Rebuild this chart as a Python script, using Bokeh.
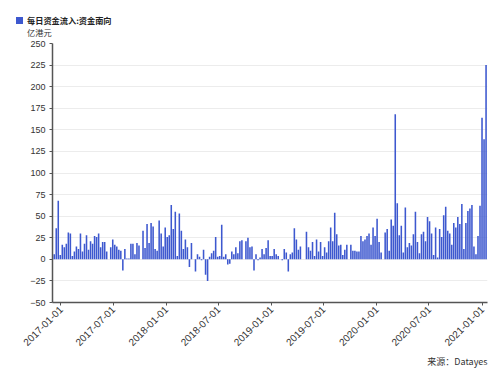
import pandas as pd
from bokeh.plotting import figure
from bokeh.layouts import column
from bokeh.models import (Range1d, FixedTicker, DatetimeTickFormatter, Title,
                          ColumnDataSource, Div)
from bokeh.embed import file_html
from bokeh.resources import INLINE
from math import pi

series_name = "每日资金流入:资金南向"
unit_label = "亿港元"
source_text = "来源：Datayes"
start_date = "2016-12-09"

values = [
    6, 36, 68, 5, 17, 14, 18, 31, 30, 4,
    9, 15, 12, 30, 9, 18, 28, 11, 21, 18,
    27, 26, 30, 14, 20, 20, 9, 0, 14, 23,
    17, 15, 11, 10, -13, 12, 1, 1, 18, 18,
    6, 19, 16, 0, 33, 13, 41, 19, 42, 38,
    12, 10, 45, 30, 15, 37, 26, 28, 63, 35,
    55, 4, 53, 33, 12, 23, 14, -9, 19, 0,
    -14, 6, 3, -1, 11, -18, -25, 3, 7, 10,
    26, 3, 4, 40, 3, 6, -6, -5, 9, 6,
    14, 7, 21, 22, 0, 21, 25, 14, 15, -13,
    6, -1, 2, 12, 6, 13, 22, 4, 4, 12,
    6, 4, 0, -1, 12, 8, -14, 6, 8, 36,
    23, 11, 15, 0, 0, 32, 14, 10, 20, 4,
    23, 9, 20, 4, 14, 8, 21, 37, 21, 54,
    29, 16, 17, 5, 11, 17, 0, 17, 10, 10,
    9, 9, 27, 21, 23, 27, 30, 17, 37, 27,
    47, 20, 8, 0, 31, 35, 10, 46, 39, 168,
    65, 28, 39, 8, 60, 14, 19, 16, 29, 55,
    20, 7, 29, 32, 21, 49, 44, 30, 5, 37,
    2, 35, 26, 51, 61, 33, 30, 17, 42, 37,
    49, 41, 64, 12, 42, 56, 59, 63, 15, 6,
    27, 62, 164, 139, 225,
]

y_ticks = [-50, -25, 0, 25, 50, 75, 100, 125, 150, 175, 200, 225, 250]
x_tick_labels = ["2017-01-01", "2017-07-01", "2018-01-01", "2018-07-01",
                 "2019-01-01", "2019-07-01", "2020-01-01", "2020-07-01",
                 "2021-01-01"]

dates = pd.date_range(start_date, periods=len(values), freq="7D")
source = ColumnDataSource(data=dict(x=dates, top=values))
DAY = 86400000.0

def ms(ts):
    return pd.Timestamp(ts).value / 1e6

bar_color = "#3d58cf"
axis_color = "#555555"
text_color = "#333333"
W = 492
HEAD_H = 38

# ---- header: legend and unit (HTML text) ----
head_html = (
    f'<div style="position:relative;width:{W}px;height:{HEAD_H}px;'
    f'font-family:\'Noto Sans CJK SC\',sans-serif;">'
    f'<span style="position:absolute;left:16px;top:17px;width:7px;height:7px;'
    f'background:{bar_color};"></span>'
    f'<span style="position:absolute;left:27px;top:14px;font-size:8.2px;'
    f'line-height:13px;font-weight:bold;color:#222;white-space:nowrap;">'
    f'{series_name}</span>'
    f'<span style="position:absolute;left:27px;top:26px;font-size:8.2px;'
    f'line-height:13px;color:{text_color};white-space:nowrap;">'
    f'{unit_label}</span></div>'
)
head = Div(text=head_html, width=W, height=HEAD_H, margin=0)

# ---- main chart ----
p = figure(width=W, height=331, output_backend="svg", toolbar_location=None,
           x_axis_type="datetime",
           x_range=Range1d(ms(dates[0]) - 6 * DAY, ms(dates[-1]) + 5 * DAY),
           y_range=Range1d(-50, 250),
           min_border_left=52, min_border_right=5, min_border_top=5,
           min_border_bottom=67)
p.outline_line_color = None
p.background_fill_color = "white"

p.vbar(x="x", top="top", bottom=0, source=source, width=5.4 * DAY,
       fill_color=bar_color, line_color=None)

p.xgrid.grid_line_color = None
p.ygrid.grid_line_color = "#ececec"
p.ygrid.grid_line_width = 1

p.yaxis.ticker = FixedTicker(ticks=y_ticks)
p.xaxis.ticker = FixedTicker(ticks=[ms(d) for d in x_tick_labels])
p.xaxis.formatter = DatetimeTickFormatter(days="%Y-%m-%d", months="%Y-%m-%d",
                                          years="%Y-%m-%d")
for ax in (p.xaxis[0], p.yaxis[0]):
    ax.axis_line_color = axis_color
    ax.axis_line_width = 1.5
    ax.major_tick_line_color = axis_color
    ax.major_tick_out = 3
    ax.major_tick_in = 0
    ax.minor_tick_line_color = None
    ax.major_label_text_color = text_color
    ax.major_label_text_font = "Liberation Sans"
p.yaxis.major_label_text_font_size = "9px"
p.yaxis.major_label_standoff = 4
p.xaxis.major_label_text_font_size = "10px"
p.xaxis.major_label_orientation = pi / 4
p.xaxis.major_label_standoff = 2

src_title = Title(text=source_text, align="right", offset=0, standoff=0,
                  text_font="Noto Sans CJK SC", text_font_size="9px",
                  text_font_style="normal", text_color=text_color)
p.add_layout(src_title, "below")

layout = column(head, p, spacing=0)
open("out.html", "w").write(file_html(layout, INLINE))
